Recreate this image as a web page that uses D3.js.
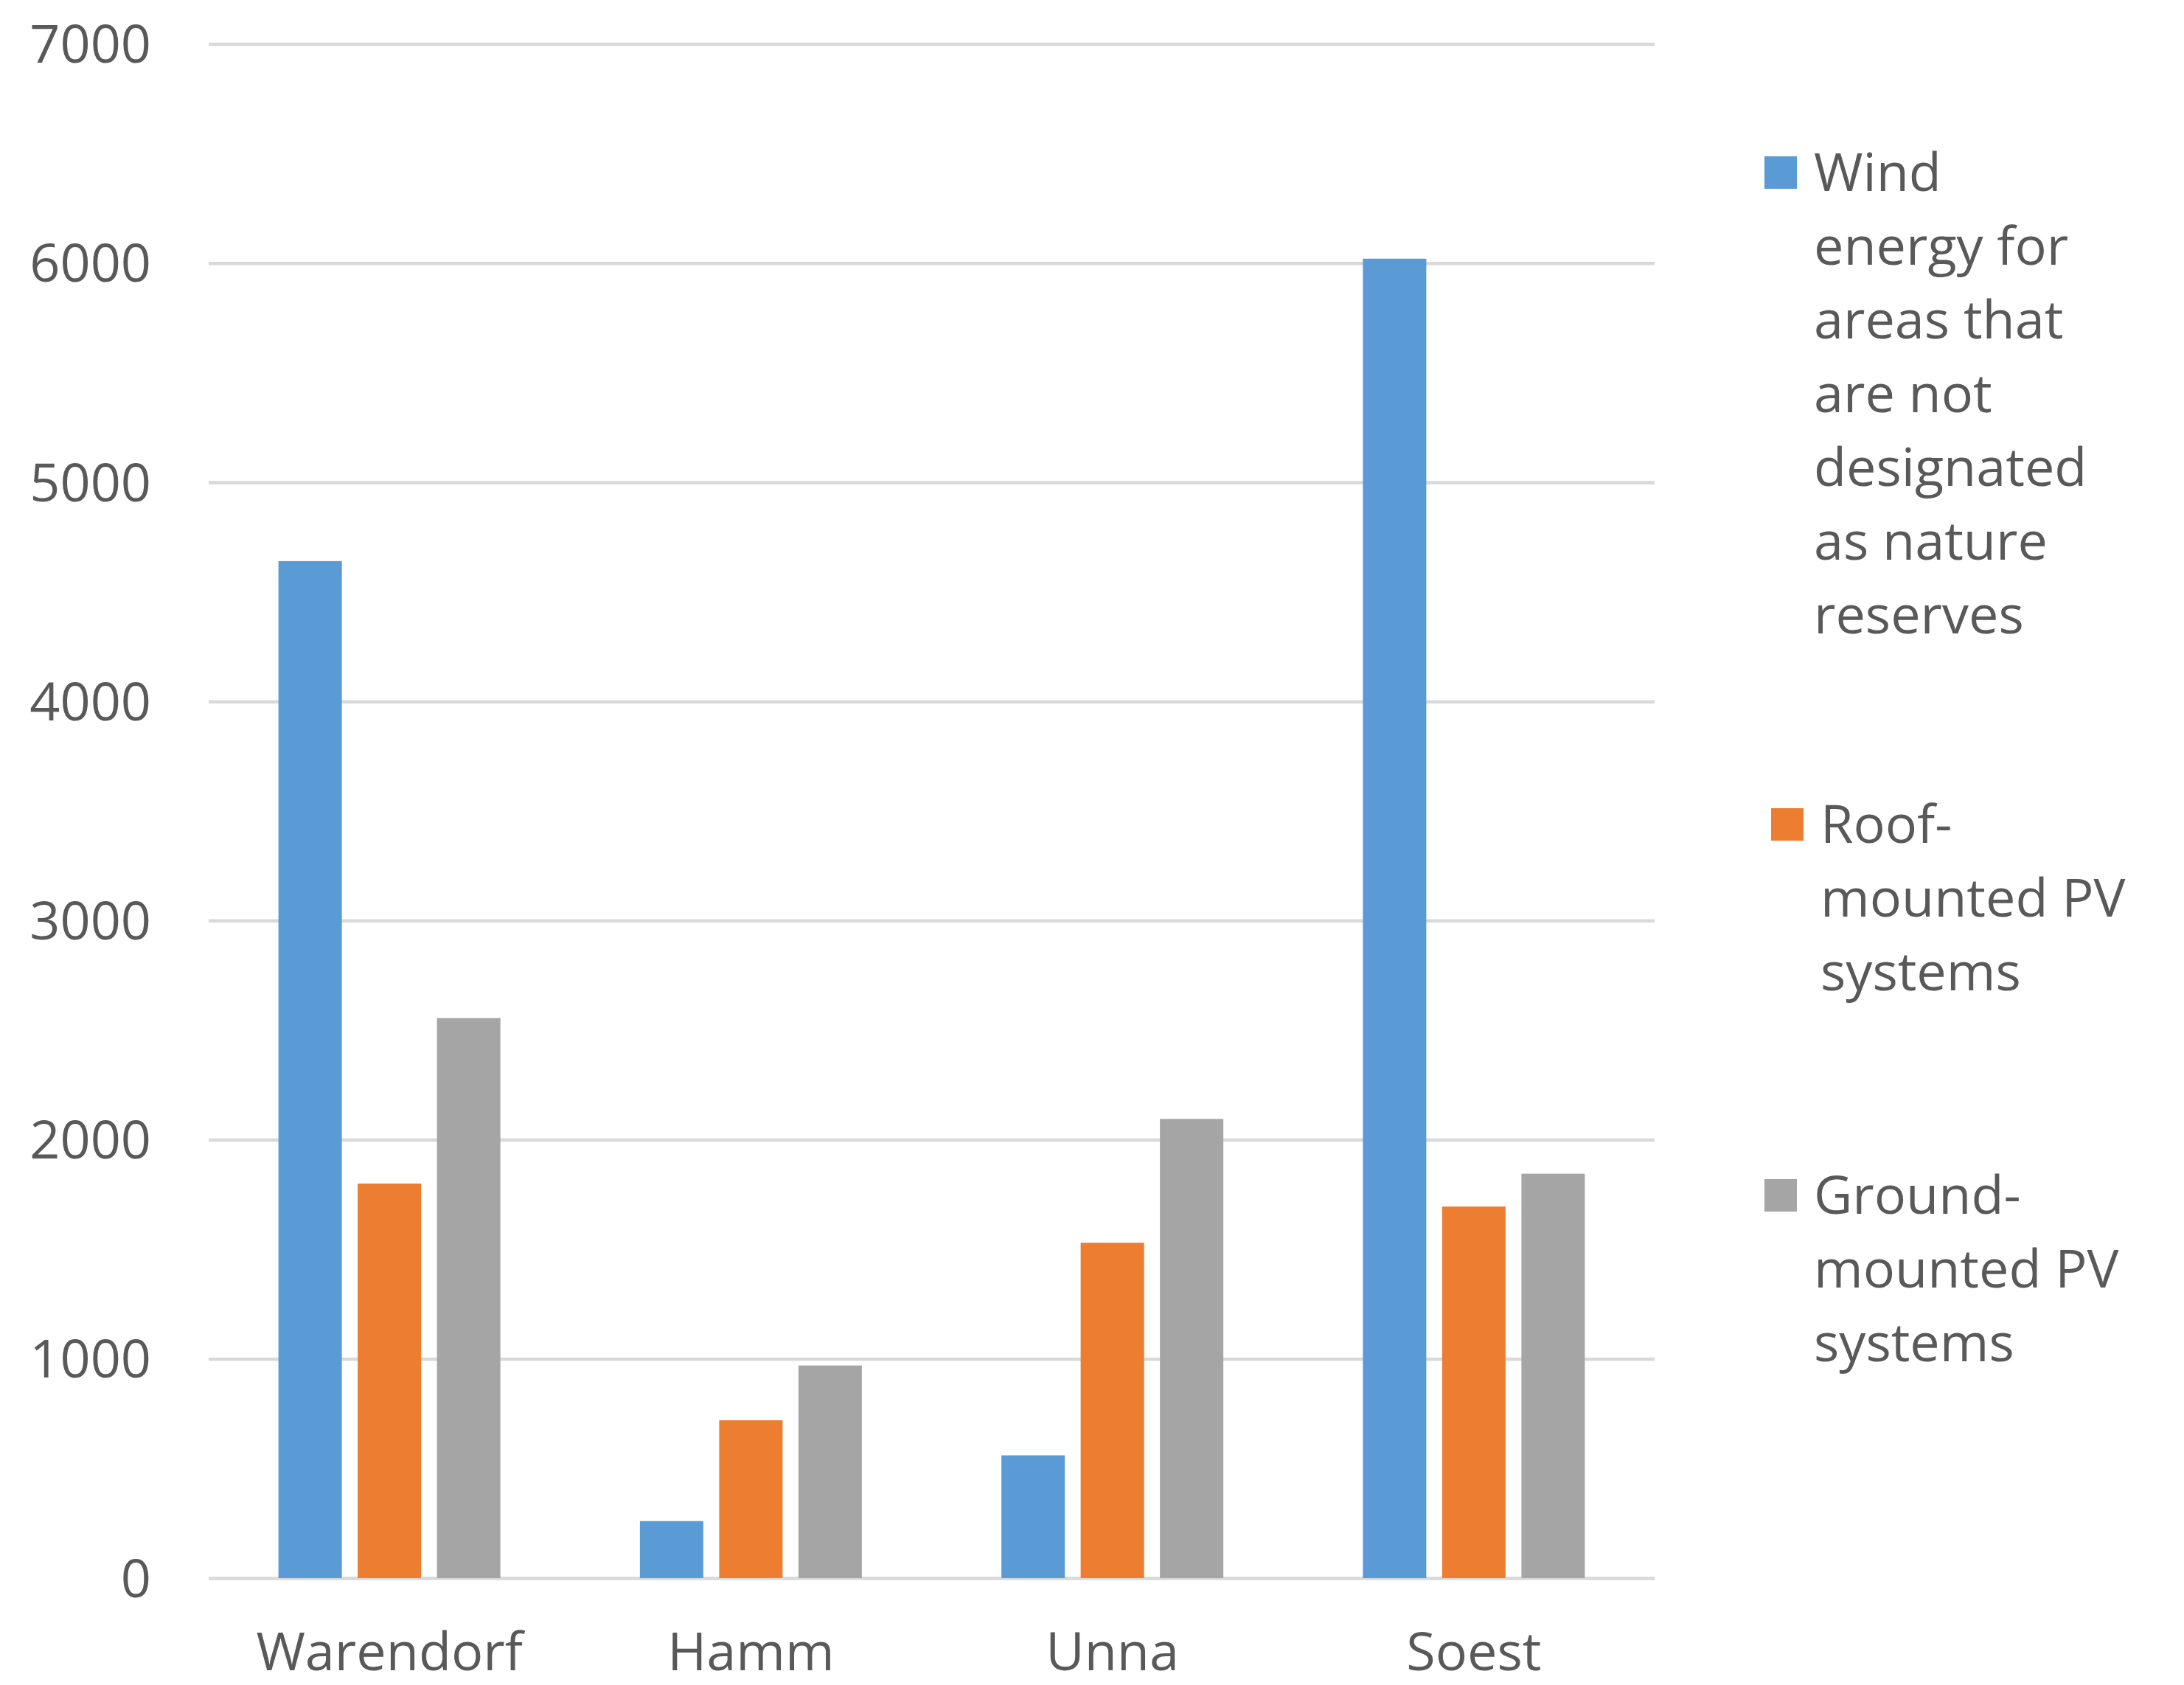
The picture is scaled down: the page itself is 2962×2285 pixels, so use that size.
<!DOCTYPE html>
<html>
<head>
<meta charset="utf-8">
<script src="https://cdn.jsdelivr.net/npm/d3@7"></script>
<style>
  html, body { margin: 0; padding: 0; background: #ffffff; }
  svg { display: block; }
  text { font-family: "Open Sans", "Liberation Sans", sans-serif; fill: #595959; }
</style>
</head>
<body>
<svg id="chart" width="2962" height="2285"></svg>
<script>
// Districts on the x axis
const categories = ["Warendorf", "Hamm", "Unna", "Soest"];

// Series names (legend lines already broken the way they are shown)
const seriesNames = [
  "Wind energy for areas that are not designated as nature reserves",
  "Roof-mounted PV systems",
  "Ground-mounted PV systems"
];
const legendLines = [
  ["Wind", "energy for", "areas that", "are not", "designated", "as nature", "reserves"],
  ["Roof-", "mounted PV", "systems"],
  ["Ground-", "mounted PV", "systems"]
];

// Values per series, in category order
const windValues   = [4640, 260, 560, 6020];
const roofPvValues = [1800, 720, 1530, 1695];
const groundPvValues = [2555, 970, 2095, 1845];

// Axis ticks
const yTicks = [0, 1000, 2000, 3000, 4000, 5000, 6000, 7000];

const seriesColors = ["#5B9BD5", "#ED7D31", "#A5A5A5"];
const seriesValues = [windValues, roofPvValues, groundPvValues];

// Layout
const plot = { left: 283, right: 2244, top: 59.5, bottom: 2140 };
const fontSize = 72;
const groupWidth = 301;

const svg = d3.select("#chart");

const x0 = d3.scaleBand()
  .domain(categories)
  .range([plot.left, plot.right])
  .paddingInner(0)
  .paddingOuter(0);

const x1 = d3.scaleBand()
  .domain(d3.range(seriesNames.length))
  .range([-groupWidth / 2, groupWidth / 2])
  .paddingInner(0.2)
  .paddingOuter(0);

const y = d3.scaleLinear()
  .domain([0, 7000])
  .range([plot.bottom, plot.top]);

// Gridlines and value labels
const yAxis = d3.axisLeft(y)
  .tickValues(yTicks)
  .tickFormat(d3.format("d"))
  .tickSizeInner(-(plot.right - plot.left))
  .tickSizeOuter(0)
  .tickPadding(78);

const gy = svg.append("g")
  .attr("transform", `translate(${plot.left},0)`)
  .call(yAxis);
gy.select(".domain").remove();
gy.selectAll(".tick line")
  .attr("stroke", "#D9D9D9")
  .attr("stroke-width", 4.5);
gy.selectAll(".tick text")
  .attr("font-size", fontSize)
  .attr("font-family", null)
  .attr("fill", "#595959")
  .attr("dy", "0.35em");

// Category labels
const xAxis = d3.axisBottom(x0).tickSize(0).tickPadding(0);
const gx = svg.append("g")
  .attr("transform", `translate(0,${plot.bottom})`)
  .call(xAxis);
gx.select(".domain").remove();
gx.selectAll(".tick text")
  .attr("font-size", fontSize)
  .attr("font-family", null)
  .attr("fill", "#595959")
  .attr("y", 125)
  .attr("dy", 0);

// Bars
const rows = categories.map((c, ci) => ({
  category: c,
  values: seriesValues.map((vals, si) => ({ series: si, value: vals[ci] }))
}));

const groups = svg.append("g").selectAll("g")
  .data(rows)
  .join("g")
  .attr("transform", d => `translate(${x0(d.category) + x0.bandwidth() / 2},0)`);

groups.selectAll("rect")
  .data(d => d.values)
  .join("rect")
  .attr("x", d => x1(d.series))
  .attr("width", x1.bandwidth())
  .attr("y", d => y(d.value))
  .attr("height", d => y(0) - y(d.value))
  .attr("fill", d => seriesColors[d.series]);

// Legend
const legendX = 2393;
const legendSwatch = 44;
const legendTextGap = 67;
const legendLineHeight = 100;
const legendEntries = [
  { baseline: 259, shift: 0 },
  { baseline: 1143, shift: 9 },
  { baseline: 1646, shift: 0 }
];

const legend = svg.append("g").selectAll("g")
  .data(seriesNames.map((name, i) => ({ name, i })))
  .join("g")
  .attr("transform", d => `translate(${legendX + legendEntries[d.i].shift},${legendEntries[d.i].baseline})`);

legend.append("rect")
  .attr("x", 0)
  .attr("y", -legendSwatch - 3)
  .attr("width", legendSwatch)
  .attr("height", legendSwatch)
  .attr("fill", d => seriesColors[d.i]);

legend.append("text")
  .attr("font-size", fontSize)
  .selectAll("tspan")
  .data(d => legendLines[d.i])
  .join("tspan")
  .attr("x", legendTextGap)
  .attr("y", (d, k) => k * legendLineHeight)
  .text(d => d);
</script>
</body>
</html>
